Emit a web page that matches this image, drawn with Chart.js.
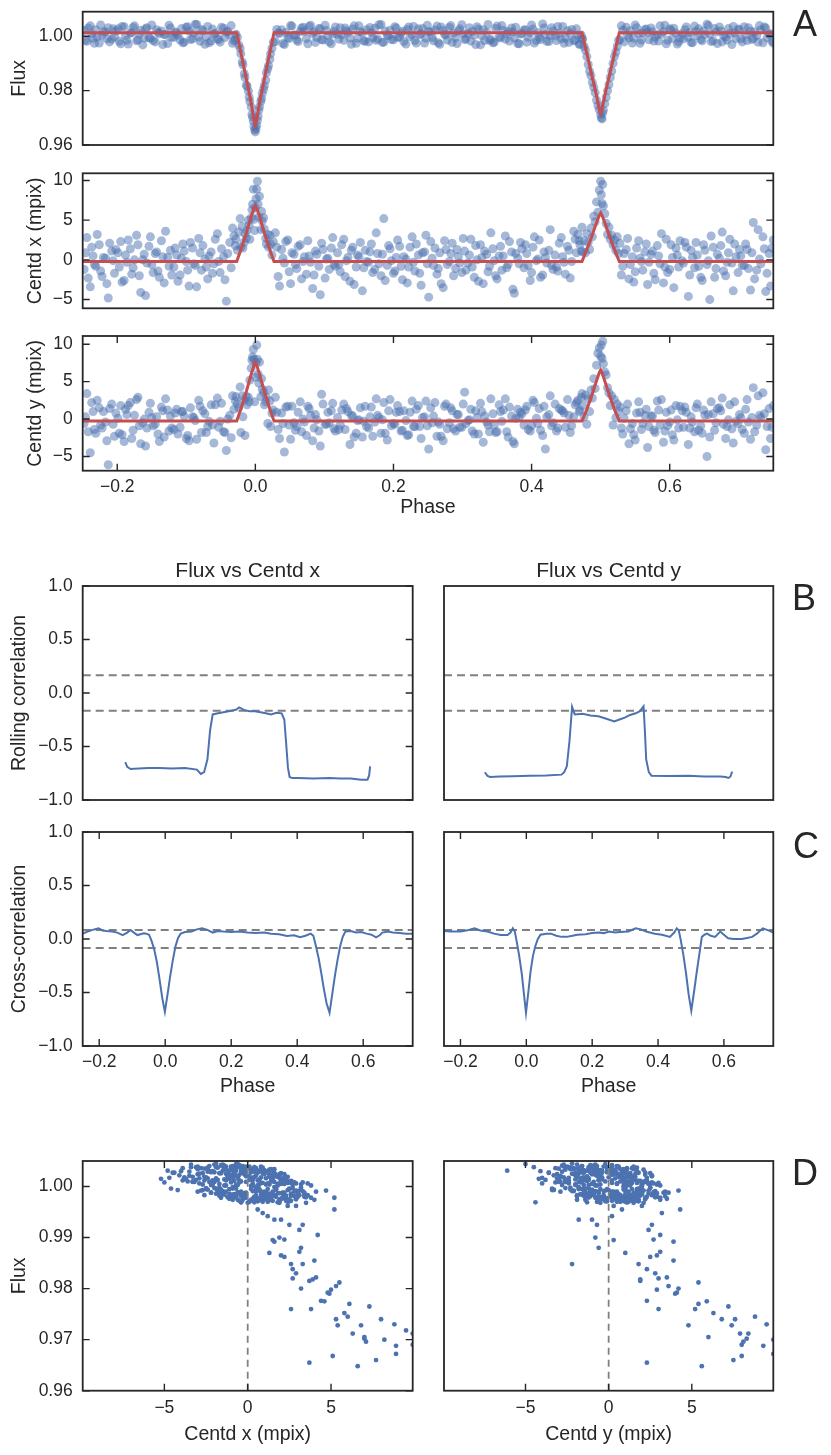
<!DOCTYPE html>
<html>
<head>
<meta charset="utf-8">
<script src="https://cdn.jsdelivr.net/npm/chart.js"></script>
<style>
  body { margin: 0; background: #fff; }
  #page { position: relative; width: 831px; height: 1455px; overflow: hidden; background: #fff; }
  canvas { position: absolute; }
  .tag { position: absolute; font-family: 'Liberation Sans', Arial, sans-serif; font-size: 36px; line-height: 36px; color: #262626; }
</style>
</head>
<body>
<div id="page">
  <canvas id="a1"></canvas>
  <canvas id="a2"></canvas>
  <canvas id="a3"></canvas>
  <canvas id="b1"></canvas>
  <canvas id="b2"></canvas>
  <canvas id="c1"></canvas>
  <canvas id="c2"></canvas>
  <canvas id="d1"></canvas>
  <canvas id="d2"></canvas>
  <div class="tag" style="left:793px; top:6px;">A</div>
  <div class="tag" style="left:792px; top:580px;">B</div>
  <div class="tag" style="left:793px; top:828px;">C</div>
  <div class="tag" style="left:792px; top:1155px;">D</div>
</div>
<script>
// folded light curve + centroid shifts (two out-of-transit passes, then the two eclipses)
const phase = [
  -0.248,-0.244,-0.239,-0.235,-0.231,-0.226,-0.222,-0.217,-0.213,-0.208,
  -0.204,-0.199,-0.195,-0.190,-0.186,-0.181,-0.177,-0.172,-0.168,-0.163,
  -0.159,-0.154,-0.150,-0.145,-0.141,-0.136,-0.132,-0.127,-0.123,-0.118,
  -0.114,-0.109,-0.105,-0.100,-0.096,-0.091,-0.087,-0.082,-0.078,-0.073,
  -0.069,-0.064,-0.060,-0.055,-0.051,-0.046,-0.042,-0.037,-0.033,-0.029,
  0.029,0.033,0.038,0.042,0.047,0.051,0.056,0.060,0.065,0.069,
  0.074,0.078,0.083,0.087,0.092,0.096,0.101,0.105,0.110,0.114,
  0.119,0.123,0.128,0.132,0.137,0.141,0.146,0.150,0.155,0.159,
  0.164,0.168,0.173,0.177,0.182,0.186,0.191,0.195,0.200,0.204,
  0.209,0.213,0.218,0.222,0.227,0.231,0.236,0.240,0.245,0.249,
  0.254,0.258,0.263,0.267,0.272,0.276,0.281,0.285,0.290,0.294,
  0.299,0.303,0.308,0.312,0.317,0.321,0.326,0.330,0.335,0.339,
  0.344,0.348,0.353,0.357,0.362,0.366,0.371,0.375,0.380,0.384,
  0.389,0.393,0.398,0.402,0.407,0.411,0.416,0.420,0.425,0.429,
  0.434,0.438,0.443,0.447,0.452,0.456,0.461,0.465,0.469,0.472,
  0.528,0.532,0.537,0.541,0.546,0.550,0.555,0.559,0.564,0.568,
  0.573,0.577,0.582,0.586,0.591,0.595,0.600,0.604,0.609,0.613,
  0.618,0.622,0.627,0.631,0.636,0.640,0.645,0.649,0.654,0.658,
  0.663,0.667,0.672,0.676,0.681,0.685,0.690,0.694,0.699,0.703,
  0.708,0.712,0.717,0.721,0.726,0.730,0.735,0.739,0.744,0.748,
  -0.246,-0.242,-0.237,-0.233,-0.229,-0.224,-0.220,-0.215,-0.211,-0.206,
  -0.202,-0.197,-0.193,-0.188,-0.184,-0.179,-0.175,-0.170,-0.166,-0.161,
  -0.157,-0.152,-0.148,-0.143,-0.139,-0.134,-0.130,-0.125,-0.121,-0.116,
  -0.112,-0.107,-0.103,-0.098,-0.094,-0.089,-0.085,-0.080,-0.076,-0.071,
  -0.067,-0.062,-0.058,-0.053,-0.049,-0.044,-0.040,-0.035,-0.031,-0.028,
  0.031,0.035,0.040,0.044,0.049,0.053,0.058,0.062,0.067,0.071,
  0.076,0.080,0.085,0.089,0.094,0.098,0.103,0.107,0.112,0.116,
  0.121,0.125,0.130,0.134,0.139,0.143,0.148,0.152,0.157,0.161,
  0.166,0.170,0.175,0.179,0.184,0.188,0.193,0.197,0.202,0.206,
  0.211,0.215,0.220,0.224,0.229,0.233,0.238,0.242,0.247,0.251,
  0.256,0.260,0.265,0.269,0.274,0.278,0.283,0.287,0.292,0.296,
  0.301,0.305,0.310,0.314,0.319,0.323,0.328,0.332,0.337,0.341,
  0.346,0.350,0.355,0.359,0.364,0.368,0.373,0.377,0.382,0.386,
  0.391,0.395,0.400,0.404,0.409,0.413,0.418,0.422,0.427,0.431,
  0.436,0.440,0.445,0.449,0.454,0.458,0.463,0.467,0.470,0.473,
  0.530,0.534,0.539,0.543,0.548,0.552,0.557,0.561,0.566,0.570,
  0.575,0.579,0.584,0.588,0.593,0.597,0.602,0.606,0.611,0.615,
  0.620,0.624,0.629,0.633,0.638,0.642,0.647,0.651,0.656,0.660,
  0.665,0.669,0.674,0.678,0.683,0.687,0.692,0.696,0.701,0.705,
  0.710,0.714,0.719,0.723,0.728,0.732,0.737,0.741,0.746,0.750,
  -0.026,-0.024,-0.022,-0.021,-0.019,-0.018,-0.016,-0.015,-0.013,-0.012,
  -0.010,-0.009,-0.008,-0.006,-0.005,-0.004,-0.003,-0.002,-0.001,0.000,
  0.001,0.002,0.003,0.004,0.005,0.006,0.008,0.009,0.010,0.012,
  0.013,0.015,0.016,0.018,0.019,0.021,0.022,0.024,0.026,
  0.474,0.476,0.478,0.480,0.482,0.484,0.486,0.488,0.490,0.492,
  0.494,0.496,0.498,0.500,0.501,0.502,0.503,0.504,0.506,0.508,
  0.510,0.512,0.514,0.516,0.518,0.520,0.522,0.524,0.526
];
const flux = [
  1.0021,0.9981,1.0038,0.9992,1.0024,0.9975,1.0003,1.0016,1.0031,0.9989,
  0.9998,1.0027,0.9972,1.0035,0.9985,1.0011,1.0032,0.9983,1.0009,0.9968,
  1.0027,0.9994,1.0041,0.9979,1.0014,1.0019,1.0006,0.9973,1.0030,0.9996,
  1.0012,0.9986,0.9976,1.0033,1.0019,0.9990,1.0044,0.9997,1.0025,0.9970,
  1.0036,0.9982,1.0008,0.9991,0.9978,1.0029,1.0015,1.0005,0.9974,0.9987,
  0.9980,1.0012,1.0024,0.9969,0.9995,1.0039,1.0004,0.9986,1.0017,1.0033,
  0.9991,1.0036,1.0010,0.9977,1.0028,0.9988,1.0040,1.0001,0.9972,1.0018,
  1.0007,1.0031,0.9985,1.0020,0.9993,1.0026,0.9974,1.0038,1.0012,0.9981,
  0.9979,1.0013,1.0029,0.9990,1.0043,0.9978,1.0003,1.0022,0.9987,1.0030,
  0.9996,1.0018,0.9971,1.0034,1.0006,0.9984,1.0027,1.0009,0.9975,1.0040,
  1.0015,0.9983,1.0037,0.9970,1.0021,1.0004,1.0032,0.9977,0.9995,1.0019,
  1.0042,0.9988,1.0010,0.9982,1.0003,1.0035,0.9968,1.0024,1.0014,0.9985,
  0.9976,1.0028,0.9997,1.0039,0.9989,1.0017,1.0030,0.9993,0.9973,1.0008,
  1.0023,0.9978,1.0012,1.0026,0.9984,0.9995,1.0045,1.0006,0.9980,1.0031,
  1.0001,1.0036,0.9990,0.9974,1.0020,1.0009,0.9983,1.0027,0.9970,1.0004,
  0.9987,1.0022,1.0033,0.9994,0.9975,1.0041,1.0010,0.9986,1.0025,1.0013,
  1.0030,0.9982,1.0005,1.0038,1.0016,0.9972,1.0027,0.9991,1.0011,0.9979,
  1.0009,1.0024,0.9996,0.9977,1.0037,1.0001,0.9988,1.0019,1.0044,1.0008,
  0.9983,1.0015,1.0034,0.9979,0.9997,1.0028,0.9969,1.0012,1.0026,0.9990,
  1.0035,0.9984,1.0018,0.9992,1.0002,1.0039,0.9976,1.0030,1.0007,0.9981,
  0.9985,1.0030,1.0009,0.9974,0.9998,1.0041,1.0016,0.9990,0.9979,1.0027,
  1.0019,0.9981,1.0036,1.0002,0.9971,1.0013,1.0038,0.9987,1.0022,0.9993,
  1.0031,0.9992,0.9984,1.0024,1.0009,0.9969,1.0006,1.0040,0.9996,1.0015,
  1.0004,1.0028,0.9978,1.0035,0.9988,1.0012,1.0043,0.9981,1.0020,0.9999,
  0.9976,1.0026,1.0011,0.9987,1.0033,0.9995,1.0018,1.0039,0.9983,1.0007,
  1.0025,1.0010,0.9973,1.0014,0.9991,1.0037,1.0003,0.9980,1.0029,1.0018,
  0.9972,1.0040,1.0016,0.9995,1.0027,0.9986,1.0021,0.9979,1.0008,1.0034,
  0.9989,1.0006,1.0030,1.0013,0.9970,1.0038,0.9992,1.0017,0.9983,1.0024,
  1.0032,0.9994,0.9985,1.0042,0.9977,1.0019,1.0002,0.9988,1.0035,0.9996,
  1.0011,0.9980,1.0025,0.9999,1.0036,0.9975,1.0005,1.0028,0.9992,1.0017,
  0.9995,1.0023,0.9976,1.0034,1.0007,0.9986,1.0039,1.0011,0.9973,1.0027,
  1.0009,0.9990,1.0031,1.0017,0.9969,1.0026,1.0001,0.9984,1.0043,0.9988,
  0.9978,1.0037,0.9994,1.0021,1.0008,0.9982,1.0015,1.0033,0.9972,1.0010,
  1.0024,0.9996,1.0041,0.9975,1.0013,0.9988,1.0030,0.9981,1.0002,1.0019,
  0.9984,1.0011,1.0036,0.9993,0.9977,1.0025,0.9986,1.0004,0.9970,0.9990,
  1.0038,0.9979,1.0003,1.0020,0.9992,1.0031,0.9974,1.0012,1.0026,0.9987,
  1.0016,0.9997,0.9982,1.0008,1.0040,0.9985,1.0022,1.0029,0.9971,0.9993,
  0.9990,1.0034,1.0013,0.9976,1.0018,1.0027,0.9983,1.0006,1.0039,0.9980,
  1.0028,0.9973,1.0019,1.0002,0.9986,1.0010,1.0036,0.9991,1.0024,0.9979,
  1.0005,1.0031,0.9988,1.0016,0.9978,1.0023,1.0034,0.9994,1.0009,0.9975,
  0.9995,0.9968,0.9955,0.9935,0.9905,0.9895,0.9862,0.9848,0.9820,0.9815,
  0.9798,0.9776,0.9760,0.9740,0.9712,0.9702,0.9688,0.9668,0.9655,0.9648,
  0.9660,0.9672,0.9690,0.9705,0.9728,0.9740,0.9760,0.9770,0.9790,0.9805,
  0.9818,0.9838,0.9865,0.9880,0.9892,0.9915,0.9935,0.9955,0.9978,
  0.9990,0.9962,0.9948,0.9925,0.9896,0.9870,0.9855,0.9830,0.9812,0.9792,
  0.9765,0.9745,0.9730,0.9712,0.9700,0.9696,0.9718,0.9728,0.9752,0.9775,
  0.9800,0.9822,0.9848,0.9872,0.9900,0.9925,0.9942,0.9962,0.9985
];
const centdX = [
  -1.2,2.8,-3.4,0.5,-0.8,1.9,-2.1,0.2,-4.8,1.1,
  -1.7,0.9,2.3,-2.6,-0.3,1.4,-1.0,3.1,-2.0,0.0,
  -4.5,1.7,-0.6,0.8,-1.4,2.4,-2.9,0.3,1.2,-0.9,
  0.6,-1.9,2.0,-0.2,-3.3,1.5,-0.7,2.7,-1.3,0.1,
  -2.4,1.0,-0.5,3.3,-1.6,0.4,-5.2,2.2,4.0,1.8,
  3.4,-2.1,1.3,-0.4,2.5,-3.0,0.7,-1.1,1.9,-0.2,
  -1.8,0.5,-3.6,1.1,-0.8,2.1,-2.3,0.2,1.5,-0.6,
  0.9,-1.5,2.6,-0.1,-2.7,1.6,-0.9,0.4,-3.9,1.2,
  -0.3,2.0,-1.2,0.8,-2.0,5.2,-0.7,1.4,-1.7,0.3,
  1.7,-2.5,0.1,-0.9,2.9,-1.4,0.6,-3.2,1.0,-0.5,
  2.3,-0.7,-1.8,0.9,-3.5,1.3,-0.2,2.1,-1.1,0.4,
  -1.6,1.1,-0.4,2.6,-2.2,0.0,1.9,-3.0,0.7,-0.8,
  1.4,-2.0,0.5,-1.3,3.0,-0.6,1.0,-4.2,0.2,2.2,
  -1.0,0.8,-2.6,1.6,-0.1,2.5,-1.9,0.3,1.2,-0.7,
  0.6,-1.4,2.8,-0.3,1.7,-2.3,3.6,0.9,2.4,1.1,
  2.1,-0.8,1.3,-2.4,0.4,-1.5,2.4,-0.2,1.0,-3.1,
  0.7,-1.7,1.8,-0.5,-2.9,2.6,-1.2,0.3,1.5,-0.9,
  -0.1,2.2,-4.6,1.2,-1.0,0.6,-2.2,1.9,-0.6,-5.0,
  1.6,-1.1,0.2,3.5,-2.0,0.9,-0.4,2.0,-1.6,0.5,
  -0.7,1.3,-3.8,4.7,-1.3,0.1,2.9,-4.0,0.8,1.5,
  0.9,-2.3,1.6,-0.6,3.2,-1.4,0.3,-3.0,2.1,-0.1,
  1.3,-0.9,-2.8,0.6,2.5,-1.8,0.0,1.9,-4.1,0.7,
  -0.4,2.9,-1.6,1.0,-2.2,0.4,3.6,-0.8,-1.9,1.5,
  -2.7,0.2,1.1,-1.3,2.2,-0.5,-3.4,0.9,1.8,-0.9,
  0.5,-1.7,2.6,-0.2,1.4,-2.5,0.8,-1.0,3.0,2.6,
  1.6,-3.3,0.2,2.3,-1.5,0.9,-0.6,1.7,-2.4,0.4,
  2.4,-0.3,-1.9,0.7,-4.4,1.3,0.1,-1.2,2.8,-0.8,
  -0.6,1.9,-2.1,0.3,1.2,-3.1,0.6,2.2,-1.0,-0.2,
  1.0,-1.6,3.4,-0.5,0.7,-2.6,1.8,-0.1,-1.4,2.5,
  -0.8,0.4,-2.9,1.6,-0.3,2.0,-1.7,0.9,3.1,-4.7,
  0.2,1.5,-1.1,-3.0,2.4,-0.6,0.8,-2.0,1.3,-0.4,
  2.7,-1.3,0.6,-0.9,1.8,-2.7,0.3,1.1,-1.5,3.4,
  -0.1,-2.4,1.7,0.5,-1.0,2.3,-3.7,0.8,-0.5,1.4,
  1.9,-0.7,-1.6,2.9,0.1,-2.2,1.0,-0.4,3.8,-1.2,
  -0.9,2.1,0.4,-1.8,1.2,-0.2,2.6,3.2,1.9,4.1,
  -1.9,0.8,2.7,-0.6,-2.8,1.5,0.2,-1.3,2.0,-0.3,
  1.1,-2.5,0.5,3.3,-0.9,-1.6,1.9,-3.5,0.6,2.4,
  -0.4,1.6,-1.9,0.3,2.2,-0.8,-2.6,1.2,-0.1,3.0,
  -2.2,0.7,1.8,-1.4,-0.3,2.6,-3.9,0.4,1.3,-0.7,
  2.0,-1.1,0.9,-2.4,3.8,-0.5,1.4,-1.7,-3.3,2.5,
  1.2,3.5,5.2,1.6,4.2,1.5,2.2,3.3,2.7,3.7,
  5.0,4.4,2.6,5.3,6.3,7.0,8.9,5.1,3.7,6.6,
  7.7,8.9,9.9,7.0,5.4,8.0,3.8,6.1,4.9,5.3,
  3.9,2.7,2.0,3.2,1.6,3.1,2.0,0.6,2.3,
  1.0,2.4,0.9,3.3,2.2,1.3,4.0,2.9,5.5,4.8,
  7.3,6.0,8.8,9.9,8.2,7.1,9.5,6.8,5.8,4.6,
  3.2,4.1,2.6,3.1,1.9,2.5,1.2,2.9,0.8
];
const centdY = [
  -0.6,3.4,-4.5,1.0,-1.9,1.5,-1.2,-0.4,-6.1,2.0,
  -2.3,0.1,1.8,-3.0,0.6,2.2,-1.5,2.6,-0.9,-0.5,
  -3.6,0.9,0.2,-0.7,-2.0,1.6,-2.4,1.2,0.4,-1.4,
  1.3,-1.1,1.0,-2.6,-2.9,0.3,-0.2,2.5,-1.8,0.7,
  -1.0,1.9,-3.2,2.8,-0.3,-1.7,-4.2,0.5,3.1,2.4,
  2.9,-1.4,0.8,-4.4,1.7,-2.7,-0.5,-1.0,2.3,0.0,
  -2.2,1.4,-2.9,0.6,-1.6,3.3,-0.7,0.9,1.1,-1.3,
  0.2,-0.8,2.0,1.4,-3.4,0.4,-1.9,-0.1,-2.4,1.7,
  -1.2,1.6,-0.4,0.5,-1.9,2.2,-2.8,2.6,-0.6,0.9,
  1.0,-1.5,-0.2,-2.1,2.4,-1.0,1.8,-2.6,0.3,-0.9,
  1.5,0.4,-2.3,-0.7,-2.9,2.0,-0.5,1.1,-1.6,0.6,
  -1.1,3.6,-0.2,1.3,-2.0,0.2,2.1,-3.1,-0.4,-1.7,
  0.7,-1.8,1.9,-0.3,2.7,-2.4,0.4,-3.3,1.3,0.9,
  -0.8,1.7,-1.6,2.5,0.1,1.4,-2.2,-4.0,0.6,-0.9,
  2.0,-1.2,1.2,0.8,2.6,-1.8,0.3,2.2,1.0,2.9,
  1.6,-2.0,1.1,-3.3,-0.6,-2.8,2.3,-1.4,0.5,-3.8,
  0.4,-1.5,2.4,-0.8,-3.1,0.9,-0.4,-2.1,1.8,-1.2,
  1.1,1.6,-3.4,0.3,-1.7,2.0,-0.9,1.2,-5.0,-2.4,
  0.7,-0.5,1.5,2.8,-2.6,-0.1,-1.3,2.3,-0.6,0.2,
  -1.9,2.6,-2.7,4.2,-0.8,0.5,3.5,-4.1,1.4,-1.1,
  0.3,-1.7,2.2,-1.4,2.5,-0.8,1.0,-2.9,1.4,-0.7,
  0.8,-1.9,-2.1,1.3,1.8,-2.6,0.5,2.9,-3.3,0.0,
  -1.2,2.1,-0.9,0.3,-3.0,1.1,2.7,-1.6,-1.2,0.8,
  -2.0,1.0,0.4,-2.2,1.5,0.2,-2.7,1.7,1.1,-1.8,
  -0.3,-0.8,1.9,-1.1,2.1,-1.8,0.0,-2.5,1.3,3.0,
  0.9,-2.6,-0.6,1.6,-0.8,1.7,-1.5,0.9,-1.7,-0.4,
  1.7,0.5,-1.2,-0.1,-3.6,2.0,-0.7,-0.5,2.1,-1.6,
  -1.4,1.2,-1.4,1.0,0.5,-2.4,-0.2,1.5,-0.3,-1.0,
  0.3,-2.3,2.7,0.2,-0.1,-1.9,1.1,-0.9,-0.7,1.8,
  -1.6,1.1,-2.2,0.9,-1.0,1.3,-1.0,0.2,2.4,-4.0,
  -0.5,2.2,-0.4,-2.3,1.7,-1.3,1.5,-1.3,0.6,-1.1,
  2.0,-0.6,-0.1,-1.6,1.1,-2.0,1.0,0.4,-0.8,2.7,
  -0.8,-1.7,1.0,1.2,-1.7,1.6,-3.0,0.1,0.2,0.7,
  1.2,-1.4,-0.9,2.2,-0.6,-1.5,1.7,0.3,3.1,-0.5,
  -1.6,1.4,1.1,-1.1,0.5,-0.9,1.9,2.5,1.2,3.4,
  -1.2,0.1,2.0,-1.3,-2.1,0.8,0.9,-0.6,1.3,-1.0,
  0.4,-1.8,1.2,2.6,-1.6,-0.9,1.2,-2.8,-0.1,1.7,
  -1.1,0.9,-1.2,-0.4,1.5,-1.5,-1.9,0.5,0.6,2.3,
  -1.5,1.4,1.1,-0.7,-1.0,1.9,-3.2,-0.3,0.6,-1.4,
  1.3,-0.4,0.2,-1.7,3.1,0.2,0.7,-1.0,-2.6,1.8,
  2.0,1.5,4.3,-1.8,3.1,0.3,2.5,-2.2,3.0,1.9,
  2.9,2.3,5.2,6.8,7.9,8.3,9.3,8.0,2.3,5.6,
  7.5,9.9,8.0,6.0,4.8,7.6,3.0,5.4,4.0,3.6,
  1.9,2.3,2.9,-0.6,3.9,2.4,-1.0,0.8,1.2,
  1.8,0.3,3.2,-0.7,2.7,1.0,3.9,2.8,5.4,4.1,
  7.2,8.8,9.5,8.4,9.9,8.1,10.4,7.4,6.3,5.9,
  4.2,3.5,1.8,3.1,-0.8,2.6,0.2,2.0,1.0
];

// eclipse model (red curves)
const modelPhase = [-0.25,-0.027,-0.02,-0.013,-0.006,-0.002,0,0.002,0.006,0.013,0.02,0.027,
                    0.473,0.48,0.487,0.494,0.498,0.5,0.502,0.506,0.513,0.52,0.527,0.75];
const modelFlux = [1.0013,1.0013,0.9928,0.9842,0.9755,0.9690,0.9673,0.9690,0.9755,0.9842,0.9928,1.0013,
                   1.0013,0.9936,0.9859,0.9782,0.9731,0.9716,0.9731,0.9782,0.9859,0.9936,1.0013,1.0013];
const modelX = [-0.2,-0.2,1.5,3.4,5.5,6.5,6.8,6.5,5.5,3.4,1.5,-0.2,
                -0.2,1.3,2.9,4.7,5.6,5.9,5.6,4.7,2.9,1.3,-0.2,-0.2];
const modelY = [-0.27,-0.27,1.6,3.7,6.0,7.2,7.6,7.2,6.0,3.7,1.6,-0.27,
                -0.27,1.3,3.1,5.1,6.2,6.56,6.2,5.1,3.1,1.3,-0.27,-0.27];

// rolling correlation
const rollPhaseX = [-0.121,-0.115,-0.105,-0.08,-0.05,-0.017,0.02,0.06,0.096,0.108,0.118,0.128,0.136,0.144,0.16,0.176,0.2,0.216,0.224,0.24,0.256,0.272,0.289,0.305,0.321,0.337,0.353,0.361,0.366,0.372,0.377,0.385,0.401,0.45,0.498,0.53,0.562,0.594,0.613,0.618,0.621];
const rollCorrX = [-0.645,-0.69,-0.71,-0.705,-0.70,-0.70,-0.705,-0.70,-0.716,-0.757,-0.74,-0.62,-0.35,-0.20,-0.19,-0.18,-0.165,-0.155,-0.134,-0.16,-0.17,-0.17,-0.18,-0.19,-0.20,-0.185,-0.19,-0.25,-0.45,-0.70,-0.785,-0.795,-0.795,-0.80,-0.795,-0.80,-0.80,-0.81,-0.81,-0.77,-0.685];
const rollPhaseY = [-0.126,-0.118,-0.110,-0.08,-0.04,0.011,0.06,0.107,0.115,0.123,0.131,0.139,0.147,0.171,0.195,0.219,0.243,0.267,0.285,0.299,0.315,0.332,0.345,0.356,0.360,0.364,0.372,0.380,0.43,0.493,0.54,0.590,0.605,0.614,0.620,0.625];
const rollCorrY = [-0.741,-0.775,-0.785,-0.78,-0.778,-0.773,-0.77,-0.763,-0.74,-0.685,-0.45,-0.13,-0.20,-0.195,-0.21,-0.218,-0.24,-0.265,-0.245,-0.23,-0.205,-0.19,-0.17,-0.125,-0.35,-0.62,-0.74,-0.773,-0.775,-0.773,-0.78,-0.78,-0.785,-0.794,-0.78,-0.735];
const rollLimit = 0.165;

// cross-correlation
const xcorPhaseX = [-0.25,-0.235,-0.22,-0.202,-0.19,-0.178,-0.16,-0.145,-0.129,-0.115,-0.105,-0.095,-0.084,-0.075,-0.065,-0.057,-0.049,-0.041,-0.033,-0.025,-0.017,-0.009,-0.001,0.007,0.015,0.023,0.031,0.039,0.047,0.06,0.08,0.096,0.112,0.128,0.144,0.16,0.176,0.2,0.224,0.25,0.273,0.3,0.321,0.345,0.369,0.39,0.409,0.425,0.441,0.449,0.457,0.465,0.473,0.481,0.489,0.498,0.506,0.514,0.522,0.530,0.538,0.546,0.562,0.578,0.594,0.610,0.625,0.639,0.650,0.658,0.675,0.69,0.71,0.73,0.75];
const xcorX = [0.05,0.07,0.085,0.10,0.08,0.075,0.07,0.06,0.037,0.06,0.084,0.06,0.037,0.045,0.053,0.05,0.04,-0.02,-0.10,-0.22,-0.38,-0.55,-0.68,-0.52,-0.35,-0.20,-0.07,0.01,0.05,0.065,0.07,0.09,0.10,0.085,0.06,0.075,0.07,0.065,0.07,0.06,0.055,0.06,0.05,0.045,0.028,0.035,0.016,0.03,0.05,0.03,-0.07,-0.18,-0.32,-0.47,-0.60,-0.69,-0.52,-0.35,-0.20,-0.07,0.02,0.07,0.075,0.06,0.065,0.05,0.04,0.016,0.035,0.06,0.07,0.06,0.055,0.05,0.05];
const xcorPhaseY = [-0.25,-0.23,-0.199,-0.175,-0.157,-0.14,-0.118,-0.098,-0.078,-0.057,-0.048,-0.041,-0.035,-0.030,-0.022,-0.014,-0.007,-0.001,0.006,0.013,0.020,0.027,0.035,0.043,0.06,0.075,0.091,0.107,0.123,0.14,0.155,0.18,0.2,0.219,0.235,0.252,0.27,0.284,0.31,0.332,0.348,0.364,0.39,0.412,0.436,0.449,0.457,0.463,0.469,0.477,0.485,0.493,0.501,0.509,0.517,0.525,0.533,0.541,0.549,0.56,0.573,0.589,0.60,0.613,0.63,0.654,0.67,0.686,0.70,0.718,0.735,0.75];
const xcorY = [0.075,0.07,0.07,0.085,0.10,0.08,0.07,0.05,0.037,0.037,0.06,0.10,0.07,-0.01,-0.15,-0.32,-0.52,-0.69,-0.50,-0.30,-0.16,-0.07,0.0,0.04,0.05,0.05,0.03,0.02,0.02,0.03,0.04,0.045,0.055,0.06,0.055,0.07,0.06,0.065,0.07,0.10,0.09,0.07,0.05,0.04,0.02,0.06,0.10,0.08,-0.01,-0.15,-0.32,-0.52,-0.67,-0.50,-0.32,-0.15,0.02,0.04,0.05,0.03,0.02,0.07,0.04,0.006,0.0,0.0,0.01,0.02,0.05,0.10,0.08,0.06];
const xcorLimit = 0.083;

// tick values
const phaseTicks = [-0.2, 0, 0.2, 0.4, 0.6];
const fluxTicksA = [0.96, 0.98, 1.00];
const centdTicks = [-5, 0, 5, 10];
const corrTicks = [-1, -0.5, 0, 0.5, 1];
const centdTicksD = [-5, 0, 5];
const fluxTicksD = [0.96, 0.97, 0.98, 0.99, 1.00];

const BLUE = '#4c72b0';
const RED = '#c44e52';
const GREY = '#808080';
const INK = '#262626';
const FONT = "'Liberation Sans', Arial, Helvetica, sans-serif";

function pts(xs, ys) { return xs.map((x, i) => ({ x: x, y: ys[i] })); }
function fmt(d) { return v => (v < 0 ? '\u2212' : '') + Math.abs(v).toFixed(d); }

const dots = (data, color, r) => ({ data: data, backgroundColor: color, borderWidth: 0, pointRadius: r, pointHoverRadius: r, order: 2 });
const curve = (data, color, w, dash, order) => ({ data: data, showLine: true, borderColor: color, borderWidth: w, borderDash: dash || [], pointRadius: 0, fill: false, tension: 0, order: order === undefined ? 1 : order });
const hline = (y) => curve([{ x: -0.25, y: y }, { x: 0.75, y: y }], GREY, 2, [8, 5]);

// inward tick marks + frame
const frame = {
  id: 'frame',
  afterDatasetsDraw(chart, args, opts) {
    const { ctx, chartArea: a, scales } = chart;
    const L = 7;
    ctx.save();
    ctx.strokeStyle = INK;
    ctx.lineWidth = 1.4;
    ctx.beginPath();
    (opts.xt || []).forEach(v => {
      const p = scales.x.getPixelForValue(v);
      ctx.moveTo(p, a.bottom); ctx.lineTo(p, a.bottom - L);
      ctx.moveTo(p, a.top); ctx.lineTo(p, a.top + L);
    });
    (opts.yt || []).forEach(v => {
      const p = scales.y.getPixelForValue(v);
      ctx.moveTo(a.left, p); ctx.lineTo(a.left + L, p);
      ctx.moveTo(a.right, p); ctx.lineTo(a.right - L, p);
    });
    ctx.stroke();
    ctx.lineWidth = 1.8;
    ctx.strokeRect(a.left, a.top, a.right - a.left, a.bottom - a.top);
    ctx.restore();
  }
};

function axis(o, vertical) {
  return {
    type: 'linear', min: o.min, max: o.max, display: !!o.show,
    grid: { display: false, drawTicks: false }, border: { display: false },
    ticks: { display: !!o.labels, padding: o.pad || 0, color: INK, font: { family: FONT, size: 17.5 }, callback: fmt(o.dec || 0) },
    title: { display: !!o.title, text: o.title || '', color: INK, font: { family: FONT, size: 19.5 },
             padding: vertical ? { top: o.tpad || 0, bottom: 0 } : { top: 0, bottom: o.tpad || 0 } },
    afterBuildTicks: s => { s.ticks = (o.labels || []).map(v => ({ value: v })); },
    afterFit: s => {
      if (vertical) s.width = o.size || 0; else s.height = o.size || 0;
      s.paddingTop = 0; s.paddingBottom = 0; s.paddingLeft = 0; s.paddingRight = 0;
    }
  };
}

function panel(id, box, o) {
  const c = document.getElementById(id);
  c.style.left = box[0] + 'px';
  c.style.top = box[1] + 'px';
  c.width = box[2];
  c.height = box[3];
  return new Chart(c, {
    type: 'scatter',
    data: { datasets: o.datasets },
    options: {
      responsive: false, animation: false, events: [],
      layout: { padding: o.padding },
      scales: { x: axis(o.x, false), y: axis(o.y, true) },
      plugins: {
        legend: { display: false }, tooltip: { enabled: false },
        title: o.title || { display: false },
        frame: { xt: o.x.marks || [], yt: o.y.marks || [] }
      }
    },
    plugins: [frame]
  });
}

const scatterA = 'rgba(76,114,176,0.5)';
const phaseAxisHidden = { min: -0.25, max: 0.75, show: false };

// A: light curve and centroids vs phase
panel('a1', [0, 0, 831, 160], {
  padding: { left: 0, top: 11.7, right: 57.7, bottom: 15 },
  x: phaseAxisHidden,
  y: { min: 0.96, max: 1.009, show: true, labels: fluxTicksA, marks: fluxTicksA, dec: 2, pad: 10, size: 82.7, title: 'Flux', tpad: 8 },
  datasets: [curve(pts(modelPhase, modelFlux), RED, 3), dots(pts(phase, flux), scatterA, 4.5)]
});
panel('a2', [0, 160, 831, 160], {
  padding: { left: 0, top: 13.3, right: 57.7, bottom: 11.7 },
  x: phaseAxisHidden,
  y: { min: -6.1, max: 10.9, show: true, labels: centdTicks, marks: centdTicks, dec: 0, pad: 10, size: 82.7, title: 'Centd x (mpix)', tpad: 24 },
  datasets: [curve(pts(modelPhase, modelX), RED, 3), dots(pts(phase, centdX), scatterA, 4.5)]
});
panel('a3', [0, 320, 831, 215], {
  padding: { left: 0, top: 16, right: 57.7, bottom: 0 },
  x: { min: -0.25, max: 0.75, show: true, labels: phaseTicks, marks: phaseTicks, dec: 1, pad: 6.1, size: 64.3, title: 'Phase', tpad: 15.3 },
  y: { min: -6.9, max: 11.1, show: true, labels: centdTicks, marks: centdTicks, dec: 0, pad: 10, size: 82.7, title: 'Centd y (mpix)', tpad: 24 },
  datasets: [curve(pts(modelPhase, modelY), RED, 3), dots(pts(phase, centdY), scatterA, 4.5)]
});

// B: rolling correlation
function titleOpt(text) {
  return { display: true, text: text, fullSize: false, color: INK, font: { family: FONT, size: 21, weight: 'normal' }, padding: { top: 14.1, bottom: 1.7 } };
}
panel('b1', [0, 545, 420, 267], {
  padding: { left: 0, top: 0, right: 7.3, bottom: 12 },
  title: titleOpt('Flux vs Centd x'),
  x: phaseAxisHidden,
  y: { min: -1, max: 1, show: true, labels: corrTicks, marks: corrTicks, dec: 1, pad: 10, size: 82.7, title: 'Rolling correlation', tpad: 8 },
  datasets: [curve(pts(rollPhaseX, rollCorrX), BLUE, 2), hline(rollLimit), hline(-rollLimit)]
});
panel('b2', [431, 545, 400, 267], {
  padding: { left: 13, top: 0, right: 57.7, bottom: 12 },
  title: titleOpt('Flux vs Centd y'),
  x: phaseAxisHidden,
  y: { min: -1, max: 1, show: false },
  datasets: [curve(pts(rollPhaseY, rollCorrY), BLUE, 2), hline(rollLimit), hline(-rollLimit)]
});

// C: cross-correlation
panel('c1', [0, 815, 420, 290], {
  padding: { left: 0, top: 17, right: 7.3, bottom: 0 },
  x: { min: -0.25, max: 0.75, show: true, labels: phaseTicks, marks: phaseTicks, dec: 1, pad: 5.2, size: 59, title: 'Phase', tpad: 6.6 },
  y: { min: -1, max: 1, show: true, labels: corrTicks, marks: corrTicks, dec: 1, pad: 10, size: 82.7, title: 'Cross-correlation', tpad: 8 },
  datasets: [curve(pts(xcorPhaseX, xcorX), BLUE, 2), hline(xcorLimit), hline(-xcorLimit)]
});
panel('c2', [431, 815, 400, 290], {
  padding: { left: 13, top: 17, right: 57.7, bottom: 0 },
  x: { min: -0.25, max: 0.75, show: true, labels: phaseTicks, marks: phaseTicks, dec: 1, pad: 5.2, size: 59, title: 'Phase', tpad: 6.6 },
  y: { min: -1, max: 1, show: false },
  datasets: [curve(pts(xcorPhaseY, xcorY), BLUE, 2), hline(xcorLimit), hline(-xcorLimit)]
});

// D: flux vs centroid
const zeroLine = [{ x: 0, y: 0.96 }, { x: 0, y: 1.005 }];
panel('d1', [0, 1145, 420, 310], {
  padding: { left: 0, top: 16, right: 7.3, bottom: 0 },
  x: { min: -9.9, max: 9.9, show: true, labels: centdTicksD, marks: centdTicksD, dec: 0, pad: 6.8, size: 64.3, title: 'Centd x (mpix)', tpad: 8.3 },
  y: { min: 0.96, max: 1.005, show: true, labels: fluxTicksD, marks: fluxTicksD, dec: 2, pad: 10, size: 82.7, title: 'Flux', tpad: 8 },
  datasets: [curve(zeroLine, GREY, 1.8, [7, 5], 0), dots(pts(centdX, flux), BLUE, 2.4)]
});
panel('d2', [431, 1145, 400, 310], {
  padding: { left: 13, top: 16, right: 57.7, bottom: 0 },
  x: { min: -9.9, max: 9.9, show: true, labels: centdTicksD, marks: centdTicksD, dec: 0, pad: 6.8, size: 64.3, title: 'Centd y (mpix)', tpad: 8.3 },
  y: { min: 0.96, max: 1.005, show: false },
  datasets: [curve(zeroLine, GREY, 1.8, [7, 5], 0), dots(pts(centdY, flux), BLUE, 2.4)]
});
</script>
</body>
</html>
